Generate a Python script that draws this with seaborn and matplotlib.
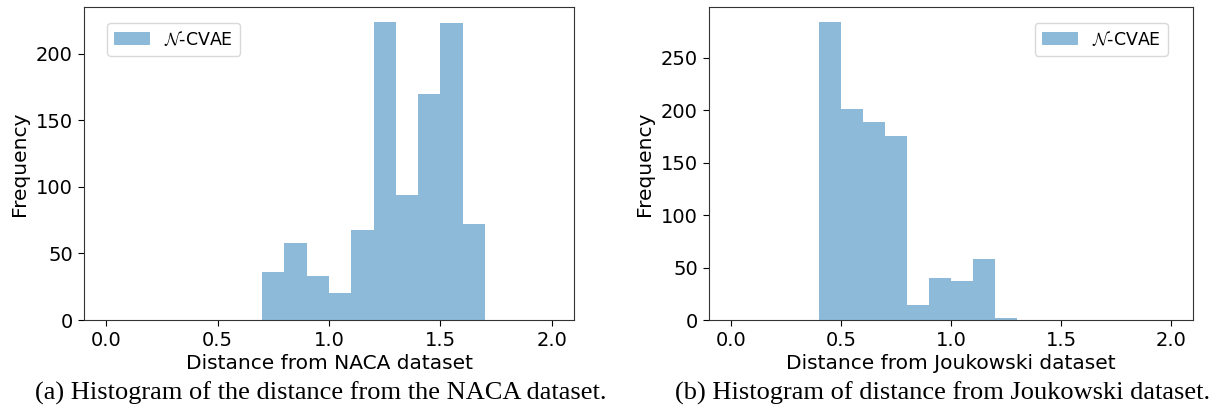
import numpy as np
import pandas as pd
import matplotlib
matplotlib.use("Agg")
import matplotlib.pyplot as plt
import seaborn as sns

# Histogram bins: 20 bins of width 0.1 over [0, 2]
bin_edges = [round(0.1 * k, 1) for k in range(21)]
bin_centers = [round(0.05 + 0.1 * k, 2) for k in range(20)]

# Counts per bin
naca_counts = [0, 0, 0, 0, 0, 0, 0, 36, 58, 33,
               20, 68, 224, 94, 170, 223, 72, 0, 0, 0]
joukowski_counts = [0, 0, 0, 0, 284, 201, 189, 175, 14, 40,
                    37, 58, 2, 0, 0, 0, 0, 0, 0, 0]

x_labels = ["Distance from NACA dataset", "Distance from Joukowski dataset"]
captions = ["(a) Histogram of the distance from the NACA dataset.",
            "(b) Histogram of distance from Joukowski dataset."]
legend_label = r"$\mathcal{N}$-CVAE"

plt.rcParams["font.family"] = ["DejaVu Sans"]
plt.rcParams["mathtext.fontset"] = "cm"

fig = plt.figure(figsize=(12.18, 4.12), dpi=100)
ax_left = fig.add_axes([0.0690, 0.2233, 0.4023, 0.7597])
ax_right = fig.add_axes([0.5821, 0.2233, 0.3974, 0.7597])

panels = [
    (ax_left, naca_counts, "upper left", (0.047, 0.95)),
    (ax_right, joukowski_counts, "upper right", (0.948, 0.95)),
]

for i, (ax, counts, loc, anchor) in enumerate(panels):
    df = pd.DataFrame({"distance": bin_centers, "count": counts})
    sns.histplot(data=df, x="distance", weights="count", bins=bin_edges,
                 ax=ax, color="#1f77b4", alpha=0.5, linewidth=0,
                 stat="count", label=legend_label)
    ax.set_xlim(-0.1, 2.1)
    ax.set_xticks([0.0, 0.5, 1.0, 1.5, 2.0])
    ax.set_xlabel(x_labels[i], fontsize=14.5, labelpad=3)
    ax.set_ylabel("Frequency", fontsize=14.5, labelpad=5)
    ax.tick_params(labelsize=14, length=4, pad=4)
    for sp in ax.spines.values():
        sp.set_color("#333333")
    ax.legend(loc=loc, bbox_to_anchor=anchor, borderaxespad=0,
              fontsize=12.5, handlelength=2.1, handletextpad=0.8,
              edgecolor="#d0d0d0", fancybox=True)
    pos = ax.get_position()
    fig.text((pos.x0 + pos.x1) / 2 - 0.007, 0.045, captions[i],
             ha="center", va="center", fontsize=19,
             family="Liberation Serif")

fig.savefig("out.png", dpi=100)
